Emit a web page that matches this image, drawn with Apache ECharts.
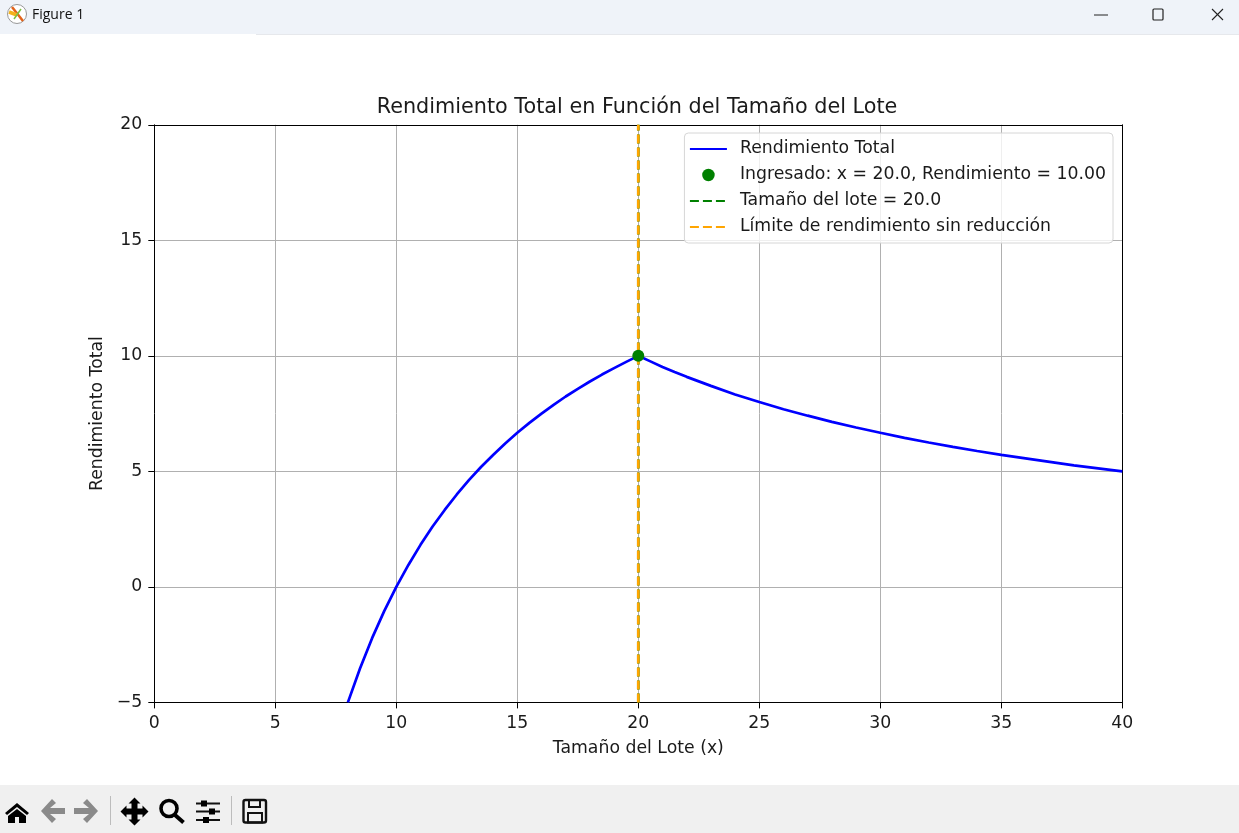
<!DOCTYPE html>
<html><head><meta charset="utf-8">
<style>html,body{margin:0;padding:0;background:#fff}#c{width:1239px;height:833px}</style>
<script src="https://cdn.jsdelivr.net/npm/echarts@6/dist/echarts.min.js"></script>
</head><body><div id="c"></div>
<script>
const xTicks=[0,5,10,15,20,25,30,35,40];
const yTicks=['−5','0','5','10','15','20'];
const curveX=[8,8.5,9,9.5,10,10.5,11,11.5,12,12.5,13,13.5,14,14.5,15,15.5,16,16.5,17,17.5,18,18.5,19,19.5,20,20.5,21,21.5,22,23,24,25,26,27,28,29,30,31,32,33,34,35,36,37,38,39,40];
const curveY=[-5,-3.53,-2.22,-1.05,0,0.95,1.82,2.61,3.33,4,4.62,5.19,5.71,6.21,6.67,7.1,7.5,7.88,8.24,8.57,8.89,9.19,9.47,9.74,10,9.76,9.52,9.3,9.09,8.7,8.33,8,7.69,7.41,7.14,6.9,6.67,6.45,6.25,6.06,5.88,5.71,5.56,5.41,5.26,5.13,5];
const pointXY=[20,10];
const loteX=[[20,-5],[20,20]];
const limiteX=[[20,-5],[20,20]];
const names=['Rendimiento Total','Ingresado: x = 20.0, Rendimiento = 10.00','Tamaño del lote = 20.0','Límite de rendimiento sin reducción'];
const font='"DejaVu Sans"';
const ink='#000';
const txt='#1a1a1a';
const fs=17.3;
const chart=echarts.init(document.getElementById('c'),null,{renderer:'canvas'});
const poly=(pts,dx,dy,fill)=>({type:'polygon',shape:{points:pts.map(p=>[p[0]+dx,p[1]+dy])},style:{fill:fill||'#000'},silent:true,z:20});
const rect=(x,y,w,h,fill,z)=>({type:'rect',shape:{x,y,width:w,height:h},style:{fill},silent:true,z:z||1});
const seg=(x1,y1,x2,y2,c,w)=>({type:'line',shape:{x1,y1,x2,y2},style:{stroke:c,lineWidth:w||1},silent:true,z:20});
const frameAxis={min:0,max:40,type:'value',axisLine:{show:true,onZero:false,lineStyle:{color:ink,width:1}},axisTick:{show:false},axisLabel:{show:false},splitLine:{show:false}};
const hideMark={opacity:0};
chart.setOption({
 animation:false,backgroundColor:'#fff',
 title:{text:'Rendimiento Total en Función del Tamaño del Lote',left:637,top:97.5,textAlign:'center',textStyle:{fontFamily:font,fontSize:20.75,fontWeight:'normal',color:txt},padding:0},
 grid:{left:154.3,top:124.8,width:968,height:577.6,show:false},
 xAxis:[{type:'value',min:0,max:40,interval:5,name:'Tamaño del Lote (x)',nameLocation:'middle',nameGap:38,
  nameTextStyle:{fontFamily:font,fontSize:fs,color:txt},
  axisLine:{show:true,onZero:false,lineStyle:{color:ink,width:1}},axisTick:{show:true,length:6,lineStyle:{color:ink}},
  axisLabel:{fontFamily:font,fontSize:fs,color:txt,margin:12.5,formatter:v=>String(xTicks[xTicks.indexOf(v)])},
  splitLine:{show:true,lineStyle:{color:'#b0b0b0',width:1}}},
  Object.assign({},frameAxis,{position:'top',interval:40})],
 yAxis:[{type:'value',min:-5,max:20,interval:5,name:'Rendimiento Total',nameLocation:'middle',nameGap:47,
  nameTextStyle:{fontFamily:font,fontSize:fs,color:txt},
  axisLine:{show:true,onZero:false,lineStyle:{color:ink,width:1}},axisTick:{show:true,length:6,lineStyle:{color:ink}},
  axisLabel:{fontFamily:font,fontSize:fs,color:txt,margin:12,padding:[4,0,0,0],formatter:v=>yTicks[(v+5)/5]},
  splitLine:{show:true,lineStyle:{color:'#b0b0b0',width:1}}},
  Object.assign({},frameAxis,{position:'right',min:-5,max:20,interval:25})],
 legend:{orient:'vertical',right:126,top:133,padding:[3,7,3,4.5],itemGap:0,itemWidth:37,itemHeight:12.5,selectedMode:false,
  backgroundColor:'rgba(255,255,255,0.8)',borderColor:'#d6d6d6',borderWidth:1,borderRadius:4,
  textStyle:{fontFamily:font,fontSize:fs,color:txt,lineHeight:26,padding:[0,0,0,8]},
  data:[{name:names[0],itemStyle:hideMark},{name:names[1],icon:'circle'},{name:names[2],itemStyle:hideMark},{name:names[3],itemStyle:hideMark}]},
 series:[
  {name:names[0],type:'line',data:curveX.map((x,i)=>[x,curveY[i]]),showSymbol:false,symbol:'none',clip:true,lineStyle:{color:'#0000ff',width:2.7},itemStyle:{color:'#0000ff'},z:3},
  {name:names[2],type:'line',data:loteX,symbol:'none',lineStyle:{color:'#008000',width:2.7,type:[9,4]},itemStyle:{color:'#008000'},z:4},
  {name:names[3],type:'line',data:limiteX,symbol:'none',lineStyle:{color:'#ffa500',width:2.7,type:[9,4]},itemStyle:{color:'#ffa500'},z:5},
  {name:names[1],type:'scatter',data:[pointXY],symbolSize:12,itemStyle:{color:'#008000',opacity:1},z:6}
 ],
 graphic:[
  rect(0,0,1239,34,'#eff3f9'),rect(256,34,983,1,'#e6e8ec'),rect(0,785,1239,48,'#f0f0f0'),
  {type:'text',style:{x:32,y:8,text:'Figure 1',font:'14px "Open Sans"',fill:'#111'},silent:true,z:20},
  {type:'circle',shape:{cx:17,cy:14,r:9.5},style:{fill:'#fff',stroke:'#999',lineWidth:1},silent:true,z:19},
  seg(12,7,23,21,'#e2631b',2.5),seg(9,12,17,15,'#f3b21c',3.5),seg(21,9,14,19,'#7bc043',1.5),
  seg(1094,15,1108,15,'#222'),
  {type:'rect',shape:{x:1153,y:9,width:10,height:11,r:1},style:{fill:'none',stroke:'#222',lineWidth:1.2},silent:true,z:20},
  seg(1212,9,1223,20,'#222',1.1),seg(1223,9,1212,20,'#222',1.1),
  poly([[12,0],[24,10],[22,12],[12,4],[2,12],[0,10]],5,803),
  poly([[12,6],[21,13],[21,20],[14,20],[14,14],[10,14],[10,20],[3,20],[3,13]],5,803),
  poly([[0,12],[11,0],[15,4],[9,9],[24,9],[24,15],[9,15],[15,20],[11,24]],41,799,'#8a8a8a'),
  poly([[24,12],[13,0],[9,4],[15,9],[0,9],[0,15],[15,15],[9,20],[13,24]],74,799,'#8a8a8a'),
  rect(110,796,1,29,'#bcbcbc'),
  poly([[14,0],[20,6],[17,6],[17,11],[22,11],[22,8],[28,14],[22,20],[22,17],[17,17],[17,22],[20,22],[14,28],[8,22],[11,22],[11,17],[6,17],[6,20],[0,14],[6,8],[6,11],[11,11],[11,6],[8,6]],120.5,797.5),
  {type:'circle',shape:{cx:169,cy:808.5,r:8},style:{fill:'none',stroke:'#000',lineWidth:3.6},silent:true,z:20},
  seg(175,815,183.5,822.5,'#000',4),
  seg(196,803.5,220,803.5,'#111',2),seg(196,811.5,220,811.5,'#111',2),seg(196,820,220,820,'#111',2),
  rect(201,800.5,6,6,'#000',21),rect(209,808.5,6,6,'#000',21),rect(203,817,6,6,'#000',21),
  rect(231,796,1,29,'#bcbcbc'),
  {type:'rect',shape:{x:243.5,y:800,width:22.5,height:22.5,r:2},style:{fill:'none',stroke:'#111',lineWidth:2.4},silent:true,z:20},
  {type:'rect',shape:{x:249,y:800,width:11,height:7},style:{fill:'none',stroke:'#111',lineWidth:2},silent:true,z:20},
  {type:'rect',shape:{x:248,y:813,width:14,height:9.5},style:{fill:'none',stroke:'#111',lineWidth:2},silent:true,z:20}
 ]
});
</script></body></html>
